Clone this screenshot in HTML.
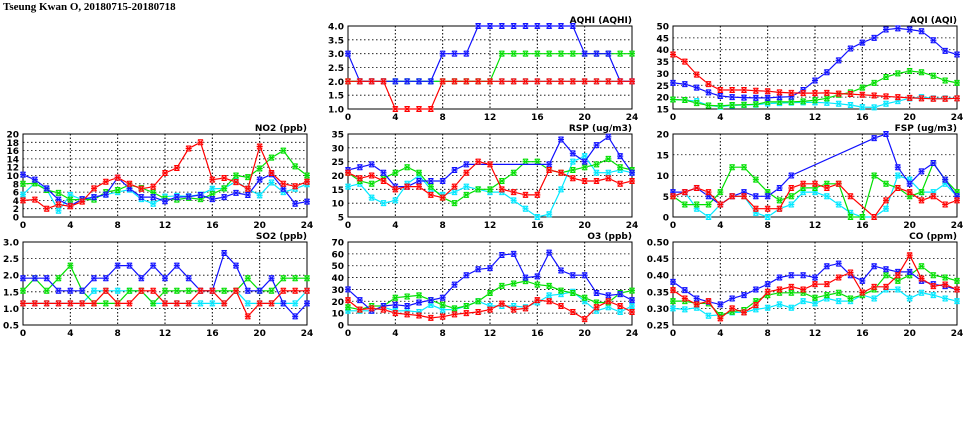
<!DOCTYPE html>
<html><head><meta charset="utf-8"><style>
html,body{margin:0;padding:0;background:#fff;width:975px;height:447px;overflow:hidden}
svg{display:block}
text{font-family:"DejaVu Sans","Liberation Sans",sans-serif;font-weight:bold;fill:#000}
</style></head><body>
<svg id="chart" width="975" height="447" viewBox="0 0 975 447" xmlns="http://www.w3.org/2000/svg">
<text x="3" y="10" font-size="10" style="font-family:'Liberation Serif',serif;font-size:11px">Tseung Kwan O, 20180715-20180718</text>
</svg>
<script>
const hours = [0,1,2,3,4,5,6,7,8,9,10,11,12,13,14,15,16,17,18,19,20,21,22,23,24];
const xTicks = [0,4,8,12,16,20,24];
const seriesNames = ['cyan','green','blue','red'];

const aqhiCyan  = [2,2,2,2,2,2,2,2,2,2,2,2,2,2,2,2,2,2,2,2,2,2,2,2,2];
const aqhiGreen = [2,2,2,2,2,2,2,2,2,2,2,2,2,3,3,3,3,3,3,3,3,3,3,3,3];
const aqhiBlue  = [3,2,2,2,2,2,2,2,3,3,3,4,4,4,4,4,4,4,4,4,3,3,3,2,2];
const aqhiRed   = [2,2,2,2,1,1,1,1,2,2,2,2,2,2,2,2,2,2,2,2,2,2,2,2,2];
const aqhiTicks = ['1.0','1.5','2.0','2.5','3.0','3.5','4.0'];

const aqiBlue  = [26,25.5,24,22,20.5,20,19.8,19.7,19.7,20,20.2,23,27,30.5,35.5,40.5,43,45,48.5,49,48.5,47.8,44,39.5,38];
const aqiRed   = [38,35,29.5,25.5,23,23,23,22.7,22.5,22,21.8,21.7,21.7,21.8,21.5,21.3,21,20.7,20.3,20,19.7,19.5,19.3,19.3,19.5];
const aqiGreen = [19,18.8,17.5,16.5,16.3,16.7,16.8,17,18,18,18,18.2,18.7,19.5,21,22,24,26,28.5,30,31,30.5,29,27,26];
const aqiCyan  = [19,18.8,18.3,16.5,16,16.5,16.7,16.8,17.3,17.5,17.7,17.8,17.8,17.6,17.2,16.7,15.8,15.7,17.2,18.3,19.5,20,19.5,19.5,19.5];
const aqiTicks = ['15','20','25','30','35','40','45','50'];

const no2Red   = [4,4.2,2,3,2.6,3.7,6.9,8.5,9.5,8,6.8,7.3,10.6,11.8,16.5,18,9,9.4,8.4,6.8,17,10.6,8,7.4,8.5];
const no2Blue  = [10.2,9,6.9,4.2,2.7,4.3,4.8,5.4,9.5,6.9,4.8,4.8,3.8,4.8,4.9,5.3,4.3,4.8,5.8,5.3,9,10.3,6.8,3.2,3.7];
const no2Green = [8,8.1,6.5,5.8,4.2,4.2,4.2,6,6.5,7.7,7,5.9,4.4,4.2,4.6,4.3,5.5,6.9,10,9.6,11.7,14.3,16,12.2,10];
const no2Cyan  = [5.4,8.2,6.7,1.5,5.3,4.2,4.6,5.4,6,6.6,4.3,3.2,4.9,5.1,5,5.4,6.8,6.9,8.6,6.8,5.2,8.3,6,6.8,7.9];
const no2Ticks = ['0','2','4','6','8','10','12','14','16','18','20'];

const rspBlue  = [22,23,24,21,16,16,18,18,18,22,24,null,null,null,null,null,null,24,33,28,25,31,34,27,21];
const rspRed   = [21,19,20,18,15,16,16,13,12,16,21,25,24,15,14,13,13,22,21,19,18,18,19,17,18];
const rspGreen = [21,18,17,19,21,23,21,16,12,10,13,15,15,18,21,25,25,22,21,22,23,24,26,23,22];
const rspCyan  = [16,17,12,10,11,17,20,15,13,14,16,15,14,14,11,8,5,6,15,25,27,21,21,22,21];
const rspTicks = ['5','10','15','20','25','30','35'];

const fspBlue  = [6,6,7,5,3,5,6,5,5,7,10,null,null,null,null,null,null,19,20,12,8,11,13,9,5];
const fspRed   = [5,6,7,6,3,5,5,2,2,2,7,8,8,7,8,5,null,0,4,7,6,4,5,3,4];
const fspGreen = [5,3,3,3,6,12,12,9,6,4,5,7,7,8,8,0,0,10,8,7,5,6,13,9,6];
const fspCyan  = [5,6,2,0,3,5,5,1,0,2,3,6,6,5,3,1,0,0,2,10,9,6,6,8,5];
const fspTicks = ['0','5','10','15','20'];

const so2Blue  = [1.91,1.91,1.91,1.53,1.53,1.53,1.91,1.91,2.29,2.29,1.91,2.29,1.91,2.29,1.91,1.53,1.53,2.67,2.29,1.53,1.53,1.91,1.15,0.76,1.15];
const so2Green = [1.53,1.91,1.53,1.91,2.29,1.53,1.15,1.15,1.15,1.53,1.53,1.15,1.53,1.53,1.53,1.53,1.53,1.53,1.53,1.91,1.53,1.53,1.91,1.91,1.91];
const so2Cyan  = [1.15,1.15,1.15,1.15,1.15,1.15,1.53,1.53,1.53,1.53,1.53,1.15,1.15,1.15,1.15,1.15,1.15,1.15,1.53,1.15,1.15,1.15,1.15,1.15,1.53];
const so2Red   = [1.15,1.15,1.15,1.15,1.15,1.15,1.15,1.53,1.15,1.15,1.53,1.53,1.15,1.15,1.15,1.53,1.53,1.15,1.53,0.76,1.15,1.15,1.53,1.53,1.53];
const so2Ticks = ['0.5','1.0','1.5','2.0','2.5','3.0'];

const o3Blue  = [30,21,12,16,17,16,19,21,23,34,42,47,48,59,60,40,41,61,46,42,42,27,25,26,21];
const o3Green = [15,13,16,16,23,24,25,21,17,14,16,20,27,33,35,37,34,33,29,27,23,19,19,27,29];
const o3Cyan  = [12,12,12,15,12,12,11,17,13,13,16,20,16,16,16,15,19,25,26,28,20,12,15,11,16];
const o3Red   = [21,13,14,13,10,9,8,6,7,9,10,11,13,18,13,14,21,20,16,11,5,15,20,16,11];
const o3Ticks = ['0','10','20','30','40','50','60','70'];

const coBlue  = [.38,.355,.33,.32,.312,.33,.34,.357,.373,.393,.40,.40,.393,.427,.435,.40,.383,.427,.418,.41,.41,.383,.373,.367,.357];
const coRed   = [.355,.33,.312,.322,.27,.30,.288,.31,.35,.357,.365,.357,.373,.373,.393,.408,.348,.365,.365,.40,.46,.39,.367,.372,.357];
const coGreen = [.322,.322,.315,.315,.28,.29,.295,.322,.34,.347,.347,.347,.332,.34,.347,.33,.34,.357,.40,.383,.40,.427,.40,.393,.383];
const coCyan  = [.30,.297,.302,.278,.28,.288,.288,.297,.302,.312,.302,.322,.315,.33,.322,.322,.34,.33,.357,.357,.33,.347,.34,.33,.322];
const coTicks = ['0.25','0.30','0.35','0.40','0.45','0.50'];

const NS = 'http://www.w3.org/2000/svg';
const svg = document.getElementById('chart');
const colors = {cyan:'#00e8ff', green:'#00e000', blue:'#1010ff', red:'#ff0000'};
const halo = {cyan:'#a0f4ff', green:'#a0f0a0', blue:'#a0a0ff', red:'#ffa0a0'};
const W = 284, H = 83;

function mk(tag, attrs, parent){
  const e = document.createElementNS(NS, tag);
  for (const k in attrs) e.setAttribute(k, attrs[k]);
  (parent||svg).appendChild(e);
  return e;
}

function panel(id, title, px, py, ticks, series){
  const g = mk('g', {});
  
  
  const ymin = parseFloat(ticks[0]), ymax = parseFloat(ticks[ticks.length-1]);
  const xs = v => px + v / 24 * W;
  const ys = v => py + H - (v - ymin) / (ymax - ymin) * H;
  ticks.forEach((t, i) => {
    const y = ys(parseFloat(t));
    if (i > 0 && i < ticks.length-1) {
      const gl = mk('line', {x1:px, x2:px+W, y1:y, y2:y, stroke:'#000', 'stroke-width':0.8, 'stroke-dasharray':'1.5,2.5'}, g);
      
      
    }
    const tl = mk('text', {x:px-4, y:y+3.5, 'font-size':9, 'text-anchor':'end'}, g);
    tl.textContent = t;
    
    
  });
  xTicks.forEach((t, i) => {
    const x = xs(t);
    if (i > 0 && i < xTicks.length-1) {
      const gl = mk('line', {x1:x, x2:x, y1:py, y2:py+H, stroke:'#000', 'stroke-width':1, 'stroke-dasharray':'1.5,2'}, g);
      
      
    }
    const tl = mk('text', {x:x, y:py+H+11, 'font-size':9, 'text-anchor':'middle'}, g);
    tl.textContent = t;
    
    
  });
  const fr = mk('rect', {x:px, y:py, width:W, height:H, fill:'none', stroke:'#000', 'stroke-width':1}, g);
  
  
  const tt = mk('text', {x:px+W, y:py-3, 'font-size':9, 'text-anchor':'end'}, g);
  tt.textContent = title;
  
  
  seriesNames.forEach((name, si) => {
    const vals = series[si];
    const c = colors[name];
    let d = '';
    let started = false;
    hours.forEach((h, i) => {
      const v = vals[i];
      if (v === null) return;
      d += (started ? 'L' : 'M') + xs(h).toFixed(1) + ',' + ys(v).toFixed(1);
      started = true;
    });
    const ln = mk('path', {d:d, fill:'none', stroke:c, 'stroke-width':1.2}, g);
    
    
    hours.forEach((h, i) => {
      const v = vals[i];
      if (v === null) return;
      const x = xs(h), y = ys(v);
      const hb = mk('rect', {x:x-3, y:y-3, width:6, height:6, fill:halo[name], opacity:0.6}, g);
      
      
      const m = mk('path', {d:`M${x-2.5},${y-2.5}L${x+2.5},${y+2.5}M${x-2.5},${y+2.5}L${x+2.5},${y-2.5}M${x-3},${y}L${x+3},${y}M${x-2.5},${y-2.5}L${x+2.5},${y-2.5}M${x-2.5},${y+2.5}L${x+2.5},${y+2.5}`, stroke:c, 'stroke-width':1, fill:'none'}, g);
      
      
    });
  });
}

panel('aqhi', 'AQHI (AQHI)', 348, 26, aqhiTicks, [aqhiCyan, aqhiGreen, aqhiBlue, aqhiRed]);
panel('aqi', 'AQI (AQI)', 673, 26, aqiTicks, [aqiCyan, aqiGreen, aqiBlue, aqiRed]);
panel('no2', 'NO2 (ppb)', 23, 134, no2Ticks, [no2Cyan, no2Green, no2Blue, no2Red]);
panel('rsp', 'RSP (ug/m3)', 348, 134, rspTicks, [rspCyan, rspGreen, rspBlue, rspRed]);
panel('fsp', 'FSP (ug/m3)', 673, 134, fspTicks, [fspCyan, fspGreen, fspBlue, fspRed]);
panel('so2', 'SO2 (ppb)', 23, 242, so2Ticks, [so2Cyan, so2Green, so2Blue, so2Red]);
panel('o3', 'O3 (ppb)', 348, 242, o3Ticks, [o3Cyan, o3Green, o3Blue, o3Red]);
panel('co', 'CO (ppm)', 673, 242, coTicks, [coCyan, coGreen, coBlue, coRed]);
</script>
</body></html>
